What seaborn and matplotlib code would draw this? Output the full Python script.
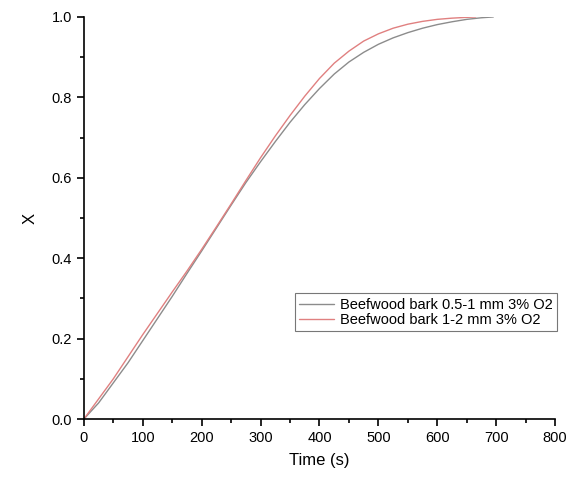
import numpy as np
import pandas as pd
import matplotlib
matplotlib.use("Agg")
import matplotlib.pyplot as plt
import seaborn as sns
from matplotlib.ticker import MultipleLocator, FormatStrFormatter

# Data
t_small = [0, 25, 50, 75, 100, 125, 150, 175, 200, 225, 250, 275, 300, 325, 350,
           375, 400, 425, 450, 475, 500, 525, 550, 575, 600, 625, 650, 675, 695]
x_small = [0.0, 0.04, 0.09, 0.14, 0.195, 0.25, 0.305, 0.362, 0.418, 0.475, 0.532, 0.588, 0.64, 0.69, 0.738,
           0.782, 0.822, 0.858, 0.888, 0.912, 0.932, 0.948, 0.961, 0.972, 0.981, 0.988, 0.994, 0.998, 1.0]
t_large = [0, 25, 50, 75, 100, 125, 150, 175, 200, 225, 250, 275, 300, 325, 350,
           375, 400, 425, 450, 475, 500, 525, 550, 575, 600, 625, 650, 665]
x_large = [0.0, 0.05, 0.10, 0.155, 0.21, 0.263, 0.316, 0.368, 0.422, 0.478, 0.535, 0.593, 0.65, 0.704, 0.755,
           0.803, 0.847, 0.885, 0.915, 0.94, 0.958, 0.972, 0.982, 0.989, 0.994, 0.997, 0.999, 1.0]
labels = ["Beefwood bark 0.5-1 mm 3% O2", "Beefwood bark 1-2 mm 3% O2"]
colors = ["#8c8c8c", "#e08080"]

df = pd.concat([
    pd.DataFrame({"Time": t_small, "X": x_small, "Sample": labels[0]}),
    pd.DataFrame({"Time": t_large, "X": x_large, "Sample": labels[1]}),
], ignore_index=True)

sns.set_style("ticks")
plt.rcParams['font.family'] = ['Liberation Sans', 'DejaVu Sans']
plt.rcParams['text.color'] = 'black'
plt.rcParams['axes.labelcolor'] = 'black'
plt.rcParams['xtick.color'] = 'black'
plt.rcParams['ytick.color'] = 'black'

fig = plt.figure(figsize=(5.7, 4.84), dpi=100)
ax = fig.add_axes([0.147, 0.134, 0.827, 0.831])

sns.lineplot(data=df, x="Time", y="X", hue="Sample", palette=colors,
             linewidth=1.0, ax=ax, sort=False)

ax.set_xlim(0, 800)
ax.set_ylim(0, 1.0)
ax.xaxis.set_major_locator(MultipleLocator(100))
ax.xaxis.set_minor_locator(MultipleLocator(50))
ax.yaxis.set_major_locator(MultipleLocator(0.2))
ax.yaxis.set_minor_locator(MultipleLocator(0.1))
ax.yaxis.set_major_formatter(FormatStrFormatter('%.1f'))
ax.tick_params(which='major', length=5, width=1.2, direction='out', labelsize=10.5,
               color='black', labelcolor='black')
ax.tick_params(which='minor', length=3, width=1.2, direction='out', color='black')
for s in ['left', 'bottom']:
    ax.spines[s].set_linewidth(1.2)
    ax.spines[s].set_color('black')
for s in ['top', 'right']:
    ax.spines[s].set_visible(False)

ax.set_xlabel("Time (s)", fontsize=12, labelpad=6, color='black')
ax.set_ylabel("X", fontsize=12, labelpad=10, color='black')

leg = ax.legend(loc='upper left', bbox_to_anchor=(0.448, 0.313), borderaxespad=0,
                fontsize=10.5, frameon=True, fancybox=False, handlelength=2.4,
                handletextpad=0.4, borderpad=0.3, labelspacing=0.1)
leg.get_frame().set_edgecolor('#555555')
leg.get_frame().set_linewidth(0.8)
for txt in leg.get_texts():
    txt.set_color('black')

fig.savefig("out.png", dpi=100)
